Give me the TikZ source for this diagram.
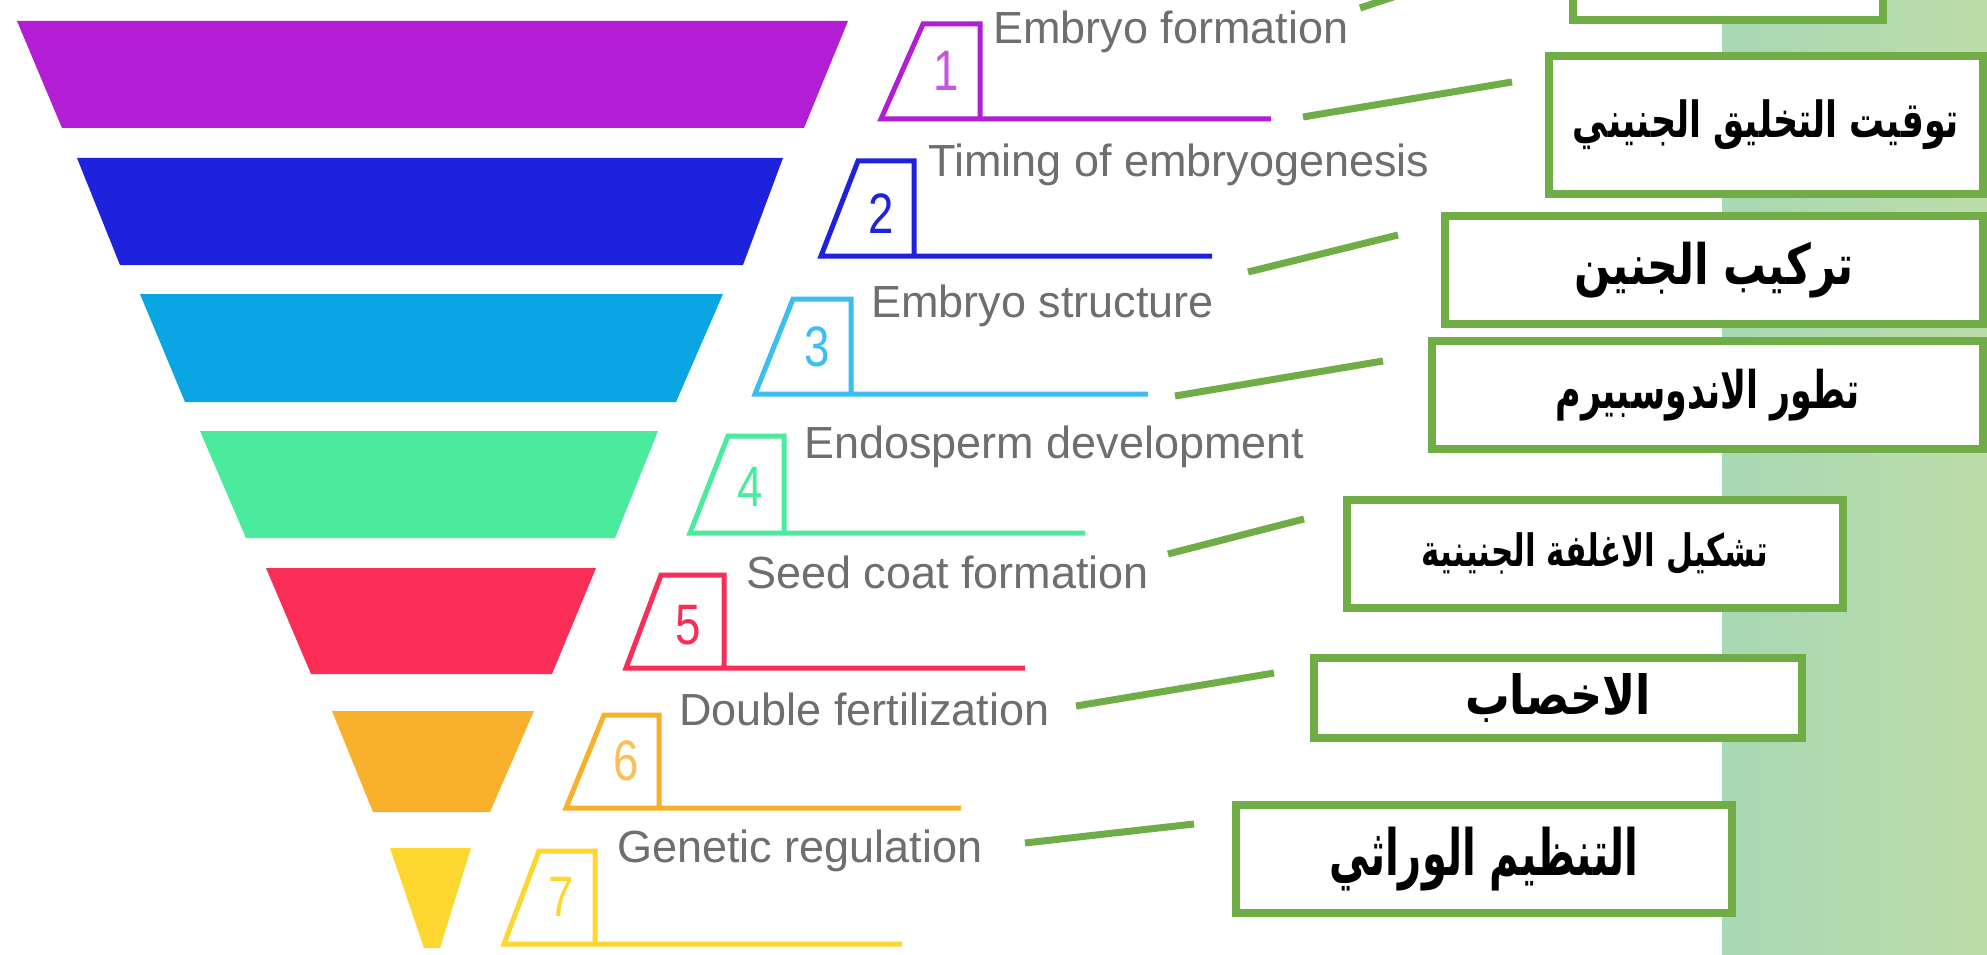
\documentclass[tikz,border=0pt]{standalone}
\usepackage{fontspec}
\usepackage{graphicx}
\setmainfont{Liberation Sans}
\newfontfamily\arabicfont[Script=Arabic]{DejaVu Sans}
\TeXXeTstate=1
\definecolor{cpurple}{RGB}{177,30,212}
\definecolor{cblue}{RGB}{30,34,220}
\definecolor{ccyan}{RGB}{10,166,228}
\definecolor{ccyanl}{RGB}{60,190,240}
\definecolor{cgreen}{RGB}{75,235,158}
\definecolor{cred}{RGB}{250,45,87}
\definecolor{corange}{RGB}{249,176,45}
\definecolor{cyellow}{RGB}{254,214,48}
\definecolor{boxgreen}{RGB}{112,173,71}
\definecolor{panelL}{RGB}{168,216,180}
\definecolor{panelR}{RGB}{188,220,168}
\definecolor{labgray}{RGB}{110,110,110}
\newcommand{\arlab}[3]{\resizebox*{#1pt}{#2pt}{\arabicfont\bfseries #3}}
\begin{document}
\begin{tikzpicture}[x=1pt,y=-1pt,
  abox/.style={draw=boxgreen, line width=8pt, fill=white, inner sep=0pt, align=center},
  tabline/.style={line width=5pt, line join=miter},
  digit/.style={font=\fontsize{57}{57}\selectfont, inner sep=0pt},
  lab/.style={font=\fontsize{45}{50}\selectfont, text=labgray, inner sep=0pt, anchor=base west},
  conn/.style={draw=boxgreen, line width=7pt}]
\useasboundingbox (0,0) rectangle (1987,955);
\clip (0,0) rectangle (1987,955);
\fill[white] (0,0) rectangle (1987,955);
% green panel
\shade[left color=panelL, right color=panelR] (1722,0) rectangle (1987,955);
% funnel
\fill[cpurple] (17,21) -- (848,21) -- (804,128) -- (62,128) -- cycle;
\fill[cblue] (77,158) -- (783,158) -- (743,265) -- (120,265) -- cycle;
\fill[ccyan] (140,294) -- (723,294) -- (676,402) -- (185,402) -- cycle;
\fill[cgreen] (200,431) -- (658,431) -- (615,538) -- (246,538) -- cycle;
\fill[cred] (266,568) -- (596,568) -- (552,674) -- (311,674) -- cycle;
\fill[corange] (332,711) -- (534,711) -- (490,812) -- (373,812) -- cycle;
\fill[cyellow] (390,848) -- (471,848) -- (440,948) -- (424,948) -- cycle;
% number tabs
\draw[tabline, draw=cpurple] (1271,119) -- (881,119) -- (923,24) -- (980,24) -- (980,119);
\draw[tabline, draw=cblue] (1212,256) -- (821,256) -- (858,161) -- (914,161) -- (914,256);
\draw[tabline, draw=ccyanl] (1148,394) -- (755,394) -- (793,299) -- (851,299) -- (851,394);
\draw[tabline, draw=cgreen] (1085,533) -- (690,533) -- (728,436) -- (784,436) -- (784,533);
\draw[tabline, draw=cred] (1025,668) -- (626,668) -- (661,575) -- (724,575) -- (724,668);
\draw[tabline, draw=corange] (961,808) -- (566,808) -- (604,715) -- (659,715) -- (659,808);
\draw[tabline, draw=cyellow] (902,944) -- (504,944) -- (539,851) -- (595,851) -- (595,944);
% digits
\node[digit, text=cpurple!75] (n1) at (946,71) {\scalebox{0.8}[1]{1}};
\node[digit, text=cblue] (n2) at (881,214) {\scalebox{0.8}[1]{2}};
\node[digit, text=ccyanl] (n3) at (817,347) {\scalebox{0.8}[1]{3}};
\node[digit, text=cgreen] (n4) at (750,487) {\scalebox{0.8}[1]{4}};
\node[digit, text=cred] (n5) at (688,625) {\scalebox{0.8}[1]{5}};
\node[digit, text=corange!80] (n6) at (626,761) {\scalebox{0.8}[1]{6}};
\node[digit, text=cyellow] (n7) at (561,897) {\scalebox{0.8}[1]{7}};
% english labels
\node[lab] (l1) at (993,44) {Embryo formation};
\node[lab] (l2) at (928,177) {Timing of embryogenesis};
\node[lab] (l3) at (871,317) {Embryo structure};
\node[lab] (l4) at (804,458) {Endosperm development};
\node[lab] (l5) at (746,588) {Seed coat formation};
\node[lab] (l6) at (679,725) {Double fertilization};
\node[lab] (l7) at (617,862) {Genetic regulation};
% arabic boxes
\node[abox, minimum width=310pt, minimum height=140pt] (b1) at (1728,-50) {};
\node[abox, minimum width=434pt, minimum height=138pt] (b2) at (1766,125) {\arlab{386}{50}{\beginR توقيت التخليق الجنيني\endR}};
\node[abox, minimum width=538pt, minimum height=108pt] (b3) at (1714,270) {\arlab{279}{56}{\beginR تركيب الجنين\endR}};
\node[abox, minimum width=551pt, minimum height=108pt] (b4) at (1707.5,395) {\arlab{304}{52}{\beginR تطور الاندوسبيرم\endR}};
\node[abox, minimum width=496pt, minimum height=108pt] (b5) at (1595,554) {\arlab{346}{42}{\beginR تشكيل الاغلفة الجنينية\endR}};
\node[abox, minimum width=488pt, minimum height=80pt] (b6) at (1558,698) {\arlab{186}{49}{\beginR الاخصاب\endR}};
\node[abox, minimum width=496pt, minimum height=108pt] (b7) at (1484,859) {\arlab{309}{64}{\beginR التنظيم الوراثي\endR}};
% connectors
\coordinate (c0a) at (1360,8);   \coordinate (c0b) at (1420,-12);
\coordinate (c1a) at (1303,117); \coordinate (c1b) at (1512,82);
\coordinate (c2a) at (1248,272); \coordinate (c2b) at (1398,235);
\coordinate (c3a) at (1175,396); \coordinate (c3b) at (1383,361);
\coordinate (c4a) at (1168,554); \coordinate (c4b) at (1304,519);
\coordinate (c5a) at (1076,706); \coordinate (c5b) at (1274,673);
\coordinate (c6a) at (1025,843); \coordinate (c6b) at (1194,824);
\draw[conn] (c0a) -- (c0b);
\draw[conn] (c1a) -- (c1b);
\draw[conn] (c2a) -- (c2b);
\draw[conn] (c3a) -- (c3b);
\draw[conn] (c4a) -- (c4b);
\draw[conn] (c5a) -- (c5b);
\draw[conn] (c6a) -- (c6b);
\end{tikzpicture}
\end{document}
